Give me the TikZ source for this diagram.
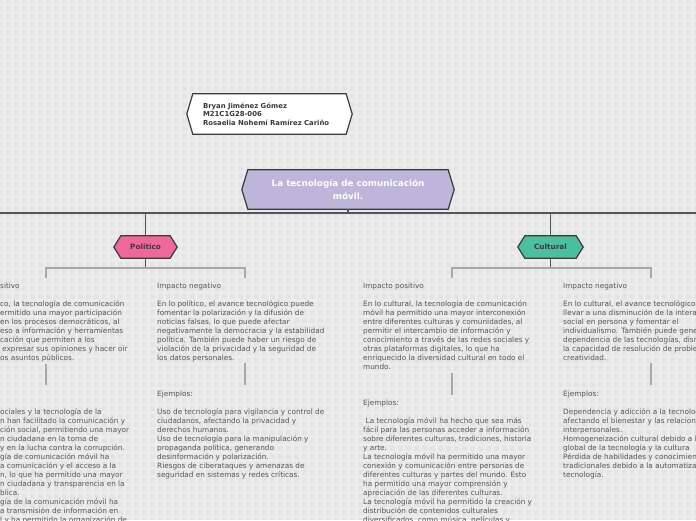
\documentclass[tikz,border=0pt]{standalone}
\usepackage{fontspec}
\setmainfont{DejaVu Sans}
\usetikzlibrary{backgrounds}
\definecolor{bgc}{HTML}{E4E4E4}
\definecolor{gridc}{HTML}{ECECEC}
\definecolor{txt}{HTML}{555555}
\definecolor{dark}{HTML}{555555}
\definecolor{lite}{HTML}{A8A8A8}
\definecolor{border}{HTML}{3A3A3A}
\definecolor{lav}{HTML}{BDB6DA}
\definecolor{pinkc}{HTML}{F0679A}
\definecolor{tealc}{HTML}{4CBF9F}
\newcommand\fst{\rule{0pt}{6pt}}
\newcommand\hexof[3]{\path[hexline,fill=#3] (#1.north west) -- (#1.north east) -- ([xshift=#2]#1.east) -- (#1.south east) -- (#1.south west) -- ([xshift=-#2]#1.west) -- cycle;}
\begin{document}
\begin{tikzpicture}[x=1pt,y=-1pt,
  body/.style={anchor=north west,inner sep=0pt,align=left,font=\fontsize{7.3}{9}\selectfont,text=txt},
  box/.style={inner sep=0pt,draw=none},
  hexline/.style={draw=border,line width=1.2pt},
  mainline/.style={draw=dark,line width=1.8pt},
  subline/.style={draw=lite,line width=1.5pt},
  tickline/.style={draw=lite,line width=1.3pt}]
\useasboundingbox (0,0) rectangle (696,520);
\clip (0,0) rectangle (696,520);

% ---------- boxes ----------
\node[box,minimum width=153pt,minimum height=40pt,text width=133pt,inner xsep=10pt,align=left,
  font=\bfseries\fontsize{6.9}{8.6}\selectfont,text=border] (auth) at (269.5,114)
  {Bryan Jiménez Gómez\\M21C1G28-006\\Rosaelia Nohemí Ramírez Cariño};
\node[box,minimum width=200pt,minimum height=39pt,align=center,
  font=\bfseries\fontsize{8.8}{12.5}\selectfont,text=white] (title) at (348,189.5)
  {La tecnología de comunicación\\móvil.};
\node[box,minimum width=49pt,minimum height=22pt,font=\bfseries\fontsize{7.3}{9}\selectfont,text=border] (pol) at (145.5,247) {Político};
\node[box,minimum width=51pt,minimum height=22pt,font=\bfseries\fontsize{7.3}{9}\selectfont,text=border] (cul) at (550.5,247) {Cultural};

% ---------- texts: Politico positivo (cut at left edge) ----------
\node[body] (pph) at (0,282.5) {\fst sitivo};
\node[body] (ppp) at (0,300.5) {\fst co, la tecnología de comunicación\\
ermitido una mayor participación\\
en los procesos democráticos, al\\
eso a información y herramientas\\
cación que permiten a los\\
\hspace{2pt}expresar sus opiniones y hacer oír\\
os asuntos públicos.};
\node[body] (ppe) at (0,408.5) {\fst ociales y la tecnología de la\\
n han facilitado la comunicación y\\
ción social, permitiendo una mayor\\
n ciudadana en la toma de\\
y en la lucha contra la corrupción.\\
gía de comunicación móvil ha\\
a comunicación y el acceso a la\\
n, lo que ha permitido una mayor\\
n ciudadana y transparencia en la\\
blica.\\
gía de la comunicación móvil ha\\
a transmisión de información en\\
l y ha permitido la organización de};

% ---------- Politico negativo ----------
\node[body] (pnh) at (157,282.5) {\fst Impacto negativo};
\node[body] (pnp) at (157,300.5) {\fst En lo político, el avance tecnológico puede\\
fomentar la polarización y la difusión de\\
noticias falsas, lo que puede afectar\\
negativamente la democracia y la estabilidad\\
política. También puede haber un riesgo de\\
violación de la privacidad y la seguridad de\\
los datos personales.};
\node[body] (pne) at (157,390.5) {\fst Ejemplos:\\[9pt]
Uso de tecnología para vigilancia y control de\\
ciudadanos, afectando la privacidad y\\
derechos humanos.\\
Uso de tecnología para la manipulación y\\
propaganda política, generando\\
desinformación y polarización.\\
Riesgos de ciberataques y amenazas de\\
seguridad en sistemas y redes críticas.};

% ---------- Cultural positivo ----------
\node[body] (cph) at (363,282.5) {\fst Impacto positivo};
\node[body] (cpp) at (363,300.5) {\fst En lo cultural, la tecnología de comunicación\\
móvil ha permitido una mayor interconexión\\
entre diferentes culturas y comunidades, al\\
permitir el intercambio de información y\\
conocimiento a través de las redes sociales y\\
otras plataformas digitales, lo que ha\\
enriquecido la diversidad cultural en todo el\\
mundo.};
\node[body] (cpe) at (363,399.5) {\fst Ejemplos:\\[9pt]
\hspace{2.5pt}La tecnología móvil ha hecho que sea más\\
fácil para las personas acceder a información\\
sobre diferentes culturas, tradiciones, historia\\
y arte.\\
La tecnología móvil ha permitido una mayor\\
conexión y comunicación entre personas de\\
diferentes culturas y partes del mundo. Esto\\
ha permitido una mayor comprensión y\\
apreciación de las diferentes culturas.\\
La tecnología móvil ha permitido la creación y\\
distribución de contenidos culturales\\
diversificados, como música, películas y};

% ---------- Cultural negativo (cut at right edge) ----------
\node[body] (cnh) at (563,282.5) {\fst Impacto negativo};
\node[body] (cnp) at (563,300.5) {\fst En lo cultural, el avance tecnológico\\
llevar a una disminución de la interacción\\
social en persona y fomentar el\\
individualismo. También puede generar\\
dependencia de las tecnologías, disminuyendo\\
la capacidad de resolución de problemas\\
creatividad.};
\node[body] (cne) at (563,390.5) {\fst Ejemplos:\\[9pt]
Dependencia y adicción a la tecnología\\
afectando el bienestar y las relaciones\\
interpersonales.\\
Homogeneización cultural debido a la\\
global de la tecnología y la cultura\\
Pérdida de habilidades y conocimientos\\
tradicionales debido a la automatización\\
tecnología.};

% ---------- background + shapes ----------
\begin{scope}[on background layer]
\clip (0,0) rectangle (696,520);
\fill[bgc] (0,0) rectangle (696,520);
\foreach \i in {4,12,...,700} \draw[gridc,line width=3pt] (\i,0) -- (\i,520);
\foreach \j in {4,12,...,524} \draw[gridc,line width=3pt] (0,\j) -- (696,\j);
\hexof{auth}{6pt}{white}
\hexof{title}{6pt}{lav}
\hexof{pol}{7pt}{pinkc}
\hexof{cul}{7pt}{tealc}
\end{scope}

% ---------- connectors ----------
\coordinate (mj) at (348,213);
\coordinate (ml) at (-5,213);
\coordinate (mr) at (701,213);
\draw[mainline] (title.south) -- (mj);
\draw[mainline] (ml) -- (mr);
\draw[mainline] (pol.north |- mj) -- (pol.north);
\draw[mainline] (cul.north |- mj) -- (cul.north);

\coordinate (pj) at (145.5,268);
\coordinate (ppt) at (46,278);
\coordinate (pnt) at (245,278);
\draw[mainline] (pol.south) -- (pj);
\draw[subline] (ppt) |- (pj) -| (pnt);

\coordinate (cj) at (550.5,268);
\coordinate (cpt) at (452,278);
\coordinate (cnt) at (651,278);
\draw[mainline] (cul.south) -- (cj);
\draw[subline] (cpt) |- (cj) -| (cnt);

\coordinate (pp1) at (46,364);  \coordinate (pp2) at (46,385);
\coordinate (pn1) at (245,363); \coordinate (pn2) at (245,385);
\coordinate (cp1) at (452,373); \coordinate (cp2) at (452,395);
\coordinate (cn1) at (651,363); \coordinate (cn2) at (651,385);
\draw[tickline] (pp1) -- (pp2);
\draw[tickline] (pn1) -- (pn2);
\draw[tickline] (cp1) -- (cp2);
\draw[tickline] (cn1) -- (cn2);
\end{tikzpicture}
\end{document}
